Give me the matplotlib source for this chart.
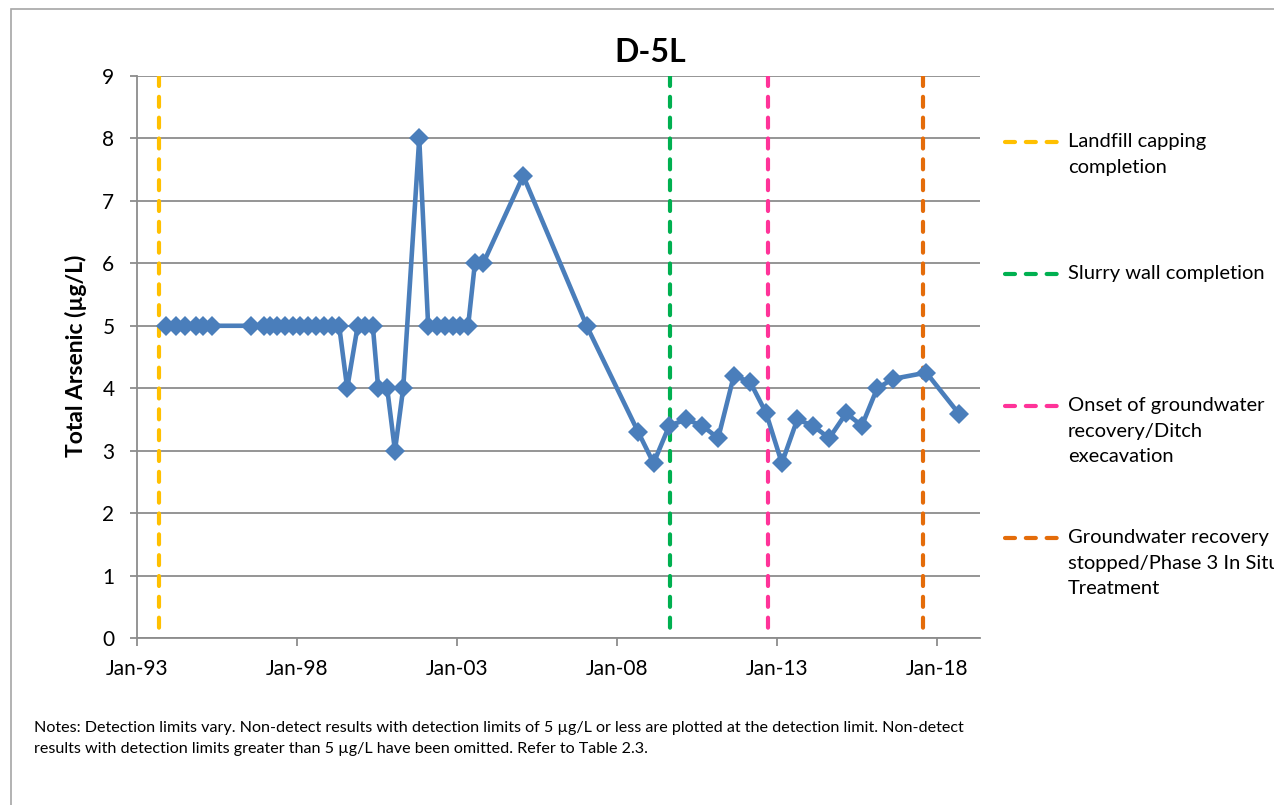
import matplotlib
matplotlib.use("Agg")
import matplotlib.pyplot as plt
import matplotlib.dates as mdates
from matplotlib.lines import Line2D
from matplotlib.patches import Rectangle
import pandas as pd

# ---------------- data ----------------
sample_dates = [
    "1993-12-02", "1994-03-29", "1994-07-05", "1994-11-03", "1995-02-02", "1995-05-08",
    "1996-08-02", "1996-12-20", "1997-02-27", "1997-05-22", "1997-08-18", "1997-11-17",
    "1998-02-06", "1998-05-08", "1998-08-11", "1998-11-10", "1999-02-02", "1999-04-30",
    "1999-07-31", "1999-11-28", "2000-02-16", "2000-05-18", "2000-07-19", "2000-10-29",
    "2001-01-26", "2001-04-30", "2001-10-30", "2002-02-09", "2002-05-19", "2002-08-18",
    "2002-11-17", "2003-02-06", "2003-05-11", "2003-07-27", "2003-10-30", "2005-01-29",
    "2007-01-22", "2008-09-01", "2009-02-24", "2009-08-22", "2010-03-03", "2010-09-02",
    "2011-03-03", "2011-08-29", "2012-03-02", "2012-09-01", "2013-02-27", "2013-08-22",
    "2014-02-16", "2014-08-22", "2015-03-03", "2015-08-29", "2016-02-20", "2016-08-21",
    "2017-09-02", "2018-09-16",
]
arsenic = [
    5, 5, 5, 5, 5, 5,
    5, 5, 5, 5, 5, 5,
    5, 5, 5, 5, 5, 5,
    4, 5, 5, 5, 4, 4,
    3, 4, 8, 5, 5, 5,
    5, 5, 5, 6, 6, 7.4,
    5, 3.3, 2.8, 3.4, 3.5, 3.4,
    3.2, 4.2, 4.1, 3.6, 2.8, 3.5,
    3.4, 3.2, 3.6, 3.4, 4.0, 4.15,
    4.25, 3.58,
]

event_labels = [
    "Landfill capping\ncompletion",
    "Slurry wall completion",
    "Onset of groundwater\nrecovery/Ditch\nexecavation",
    "Groundwater recovery\nstopped/Phase 3 In Situ\nTreatment",
]
event_dates = ["1993-09-16", "2009-09-02", "2012-09-27", "2017-07-31"]
event_colors = ["#FFC000", "#00B050", "#FF3399", "#E46C0A"]

xtick_dates = ["1993-01-01", "1998-01-01", "2003-01-01", "2008-01-01", "2013-01-01", "2018-01-01"]
yticks = [0, 1, 2, 3, 4, 5, 6, 7, 8, 9]

title = "D-5L"
ylabel = "Total Arsenic (µg/L)"
notes = ("Notes: Detection limits vary. Non-detect results with detection limits of 5 µg/L or less are plotted at the detection limit. Non-detect\n"
         "results with detection limits greater than 5 µg/L have been omitted. Refer to Table 2.3.")

# ---------------- figure ----------------
W, H = 1274, 805
plt.rcParams['font.family'] = ['Lato', 'DejaVu Sans']
fig = plt.figure(figsize=(W / 100, H / 100), dpi=100)
fig.patch.set_facecolor("white")

# outer chart border
fig.patches.append(Rectangle((11 / W, 0 - 0.05), 1.2, (H - 9) / H + 0.05,
                             transform=fig.transFigure, fill=False,
                             edgecolor="#A6A6A6", linewidth=1.2))

L, R, T, B = 136.7, 980, 76, 638
ax = fig.add_axes([L / W, 1 - B / H, (R - L) / W, (B - T) / H])

grid_col = "#8C8C8C"
ax.set_ylim(0, 9)
ax.set_xlim(pd.Timestamp("1993-01-01"), pd.Timestamp("2019-05-08"))
ax.set_yticks(yticks)
ax.yaxis.grid(True, color=grid_col, linewidth=1.3)
ax.set_axisbelow(True)
for s in ["top", "right"]:
    ax.spines[s].set_visible(False)
for s in ["left", "bottom"]:
    ax.spines[s].set_color(grid_col)
    ax.spines[s].set_linewidth(1.3)

ax.set_xticks(pd.to_datetime(xtick_dates))
ax.xaxis.set_major_formatter(mdates.DateFormatter("%b-%y"))
ax.tick_params(axis="x", length=6, width=1.3, color=grid_col, pad=9, labelsize=15)
ax.tick_params(axis="y", length=5, width=1.3, color=grid_col, pad=11, labelsize=15)

dash = (0, (2.4, 2.6))
# event lines (drawn top-down so the dash pattern starts at the top)
for d, c in zip(event_dates, event_colors):
    ax.plot([pd.Timestamp(d), pd.Timestamp(d)], [1, 0], color=c, linewidth=3.0,
            linestyle=dash, dash_capstyle="round", zorder=2,
            transform=ax.get_xaxis_transform())

# series
ax.plot(pd.to_datetime(sample_dates), arsenic, color="#4A7EBB", linewidth=3.3,
        marker="D", markersize=10, markeredgewidth=0, zorder=3, clip_on=False)

ax.set_ylabel(ylabel, fontsize=16.5, fontweight="bold")
ax.yaxis.set_label_coords(-0.059, 0.502)

fig.text(650 / W, 1 - 52 / H, title, ha="center", va="center",
         fontsize=23, fontweight="bold")

# legend (manual)
leg_y = [142, 274, 406, 538]
for yy, lab, c in zip(leg_y, event_labels, event_colors):
    fig.add_artist(Line2D([1005 / W, 1057 / W], [1 - yy / H, 1 - yy / H],
                          transform=fig.transFigure, color=c, linewidth=3.0,
                          linestyle=dash, dash_capstyle="round"))
    fig.text(1068 / W, 1 - (yy - 9) / H, lab, ha="left", va="top",
             fontsize=14.5, linespacing=1.62)

fig.text(34 / W, 1 - 721 / H, notes, ha="left", va="top", fontsize=11.6,
         linespacing=1.6)

fig.savefig("out.png", dpi=100)
